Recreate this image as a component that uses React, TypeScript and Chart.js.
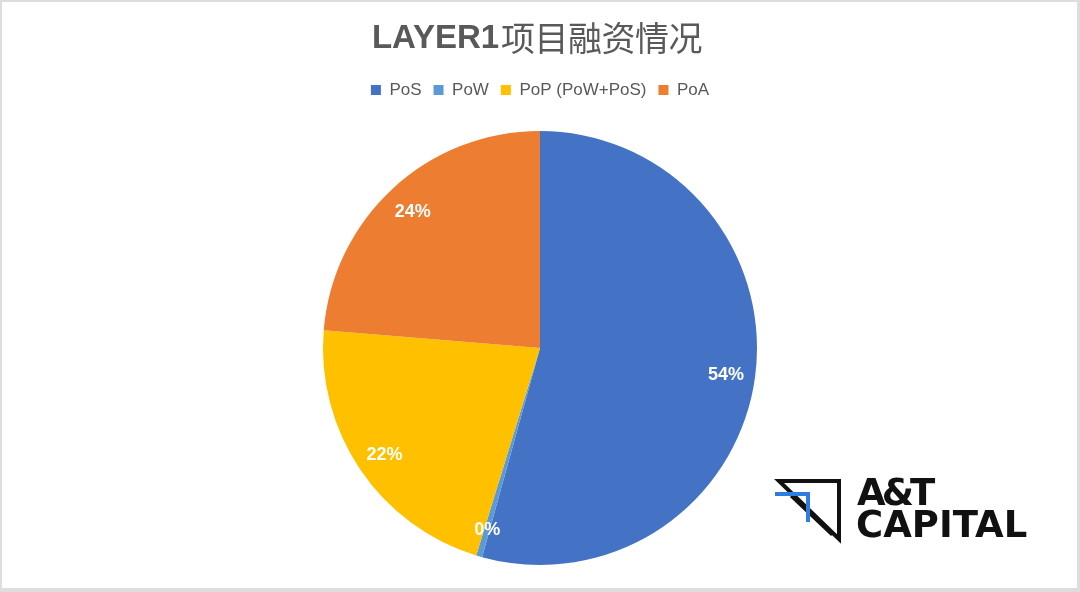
import { useEffect, useRef } from "react";
import { Chart, registerables } from "chart.js";

Chart.register(...registerables);

const categories = ["PoS", "PoW", "PoP (PoW+PoS)", "PoA"];
const shares = [54.3, 0.45, 21.55, 23.7];
const colors = ["#4472C4", "#5B9BD5", "#FFC000", "#ED7D31"];
const titleLatin = "LAYER1";
const titleCJK = "项目融资情况";
const logoLine1 = "A&T";
const logoLine2 = "CAPITAL";

const framePlugin = {
  id: "frame",
  beforeDraw(chart: any) {
    const ctx = chart.ctx;
    ctx.save();
    ctx.fillStyle = "#dddddd";
    ctx.fillRect(0, 0, chart.width, chart.height);
    ctx.fillStyle = "#ffffff";
    ctx.fillRect(2, 2, chart.width - 5, chart.height - 6);
    ctx.restore();
  },
};

const titlePlugin = {
  id: "mixedTitle",
  afterDraw(chart: any) {
    const ctx = chart.ctx;
    ctx.save();
    ctx.fillStyle = "#595959";
    ctx.textBaseline = "alphabetic";
    ctx.textAlign = "left";
    const latinFont = "bold 33px 'Liberation Sans', Arial, sans-serif";
    const cjkFont = "400 34px 'Noto Sans CJK SC', sans-serif";
    ctx.font = latinFont;
    const w1 = ctx.measureText(titleLatin).width;
    ctx.font = cjkFont;
    (ctx as any).letterSpacing = "-0.5px";
    const w2 = ctx.measureText(titleCJK).width;
    const start = 537 - (w1 + w2 + 2) / 2;
    ctx.fillText(titleCJK, start + w1 + 2, 51);
    (ctx as any).letterSpacing = "0px";
    ctx.font = latinFont;
    ctx.fillText(titleLatin, start, 47.5);
    ctx.restore();
  },
};

const labelPlugin = {
  id: "sliceLabels",
  afterDatasetsDraw(chart: any) {
    const ctx = chart.ctx;
    const meta = chart.getDatasetMeta(0);
    const total = shares.reduce((a, b) => a + b, 0);
    ctx.save();
    ctx.fillStyle = "#ffffff";
    ctx.font = "bold 18px 'Liberation Sans', Arial, sans-serif";
    ctx.textAlign = "center";
    ctx.textBaseline = "middle";
    meta.data.forEach((arc: any, i: number) => {
      const p = arc.getProps(["x", "y", "startAngle", "endAngle", "outerRadius"], true);
      const mid = (p.startAngle + p.endAngle) / 2;
      const r = p.outerRadius * 0.865;
      const txt = Math.round((shares[i] / total) * 100) + "%";
      ctx.fillText(txt, p.x + Math.cos(mid) * r, p.y + Math.sin(mid) * r + 2);
    });
    ctx.restore();
  },
};

const logoPlugin = {
  id: "logo",
  afterDraw(chart: any) {
    const ctx = chart.ctx;
    ctx.save();
    ctx.lineCap = "square";
    ctx.lineJoin = "miter";
    ctx.strokeStyle = "#111111";
    ctx.lineWidth = 4;
    ctx.beginPath();
    ctx.moveTo(779, 481);
    ctx.lineTo(839, 481);
    ctx.lineTo(839, 539);
    ctx.closePath();
    ctx.stroke();
    ctx.lineWidth = 3;
    ctx.beginPath();
    ctx.moveTo(792, 497);
    ctx.lineTo(831, 534);
    ctx.stroke();
    ctx.strokeStyle = "#2f7de1";
    ctx.lineWidth = 4;
    ctx.lineCap = "butt";
    ctx.beginPath();
    ctx.moveTo(775, 494);
    ctx.lineTo(808, 494);
    ctx.lineTo(808, 522);
    ctx.stroke();
    ctx.fillStyle = "#111111";
    ctx.textAlign = "left";
    ctx.textBaseline = "alphabetic";
    ctx.font = "bold 37px 'DejaVu Sans', sans-serif";
    (ctx as any).letterSpacing = "-4px";
    ctx.fillText(logoLine1, 857, 505);
    (ctx as any).letterSpacing = "0px";
    ctx.fillText(logoLine2, 856, 537);
    ctx.restore();
  },
};

export default function App() {
  const ref = useRef<HTMLCanvasElement | null>(null);
  useEffect(() => {
    if (!ref.current) return;
    const chart = new Chart(ref.current, {
      type: "pie",
      data: {
        labels: categories,
        datasets: [
          {
            data: shares,
            backgroundColor: colors,
            borderWidth: 0,
            radius: 217,
          } as any,
        ],
      },
      options: {
        responsive: false,
        animation: false,
        layout: { padding: { top: 69.5, bottom: 4.5, left: 0, right: 0 } },
        plugins: {
          legend: {
            position: "top",
            labels: {
              boxWidth: 10,
              boxHeight: 10,
              padding: 12,
              color: "#595959",
              font: { family: "'Liberation Sans', Arial, sans-serif", size: 17 },
            },
          },
          title: { display: false },
          tooltip: { enabled: false },
        },
      },
      plugins: [framePlugin, titlePlugin, labelPlugin, logoPlugin],
    });
    return () => chart.destroy();
  }, []);
  return (
    <div style={{ position: "fixed", left: 0, top: 0, width: 1080, height: 592 }}>
      <canvas ref={ref} width={1080} height={592} style={{ display: "block" }} />
    </div>
  );
}
